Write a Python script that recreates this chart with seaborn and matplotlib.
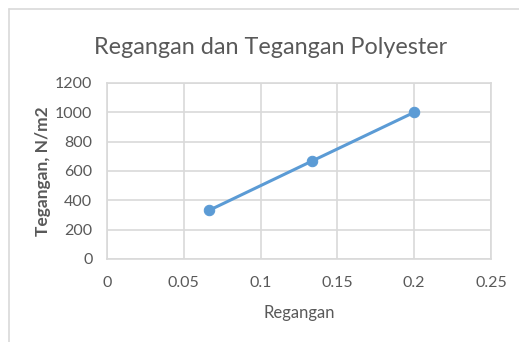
import matplotlib
matplotlib.use("Agg")
import matplotlib.pyplot as plt
from matplotlib.lines import Line2D
import seaborn as sns
import pandas as pd

# Stress-strain data for polyester
regangan = [0.0667, 0.1333, 0.2]
tegangan = [333, 667, 1000]
x_ticks = [0, 0.05, 0.1, 0.15, 0.2, 0.25]
x_tick_labels = ["0", "0.05", "0.1", "0.15", "0.2", "0.25"]
y_ticks = [0, 200, 400, 600, 800, 1000, 1200]

judul = "Regangan dan Tegangan Polyester"
label_x = "Regangan"
label_y = "Tegangan, N/m2"

df = pd.DataFrame({"Regangan": regangan, "Tegangan": tegangan})

sns.set_theme(style="white")
plt.rcParams["font.family"] = ["Lato", "DejaVu Sans"]

text_color = "#595959"
grid_color = "#d9d9d9"
line_color = "#5b9bd5"

W, H = 519, 342
fig = plt.figure(figsize=(W / 100, H / 100), dpi=100)
fig.patch.set_facecolor("white")
ax = fig.add_axes([107 / W, 1 - 259 / H, (491 - 107) / W, (259 - 83) / H])

sns.lineplot(data=df, x="Regangan", y="Tegangan", ax=ax, color=line_color,
             linewidth=2.2, marker="o", markersize=7.5,
             markeredgecolor=line_color, markerfacecolor=line_color, zorder=3)

ax.set_xlim(0, 0.25)
ax.set_ylim(0, 1200)
ax.set_xticks(x_ticks)
ax.set_xticklabels(x_tick_labels)
ax.set_yticks(y_ticks)
ax.grid(True, color=grid_color, linewidth=1.2)
ax.set_axisbelow(True)
for side in ["left", "bottom", "right", "top"]:
    ax.spines[side].set_color(grid_color)
    ax.spines[side].set_linewidth(1.2)

ax.tick_params(axis="both", length=0, colors=text_color, labelsize=11.5)
ax.tick_params(axis="x", pad=12)
ax.tick_params(axis="y", pad=10.5)

ax.set_xlabel("")
ax.set_ylabel("")
fig.text(299 / W, 1 - 313 / H, label_x, color=text_color, fontsize=12,
         ha="center", va="center")
fig.text(43 / W, 1 - 171 / H, label_y, color=text_color, fontsize=12.5,
         fontweight="bold", rotation=90, ha="center", va="center")
fig.text(271 / W, 1 - 48 / H, judul, color=text_color, fontsize=16.8,
         ha="center", va="center")

# Outer chart frame
fig.add_artist(Line2D([9 / W, 9 / W], [0, 1 - 9 / H], transform=fig.transFigure,
                      color=grid_color, linewidth=1.2))
fig.add_artist(Line2D([9 / W, 1], [1 - 9 / H, 1 - 9 / H], transform=fig.transFigure,
                      color=grid_color, linewidth=1.2))

fig.savefig("out.png", dpi=100, facecolor="white")
